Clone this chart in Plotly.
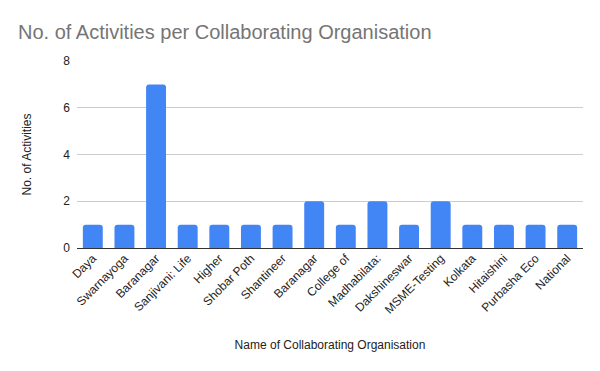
import plotly.graph_objects as go

organisations = ["Daya", "Swarnayoga", "Baranagar", "Sanjivani: Life", "Higher",
                 "Shobar Poth", "Shantineer", "Baranagar", "College of", "Madhabilata:",
                 "Dakshineswar", "MSME-Testing", "Kolkata", "Hitaishini", "Purbasha Eco",
                 "National"]
activities = [1, 1, 7, 1, 1, 1, 1, 2, 1, 2, 1, 2, 1, 1, 1, 1]
y_ticks = [0, 2, 4, 6, 8]

positions = list(range(len(organisations)))

fig = go.Figure(go.Bar(
    x=positions, y=activities, marker_color="#4285F4",
    marker_line_width=0, width=0.63,
))

font = "Liberation Sans, Arial, sans-serif"
fig.update_layout(
    width=600, height=371,
    margin=dict(l=77, r=17, t=61, b=123),
    paper_bgcolor="white", plot_bgcolor="white",
    barcornerradius=3,
    font=dict(family=font, size=12, color="#222222"),
    title=dict(text="No. of Activities per Collaborating Organisation",
               x=18 / 600, xanchor="left", y=1 - 32 / 371, yanchor="middle",
               font=dict(size=20, color="#757575", family=font)),
    showlegend=False,
)
fig.update_xaxes(
    tickmode="array", tickvals=positions, ticktext=organisations,
    tickangle=-45, range=[-0.5, len(organisations) - 0.5],
    showgrid=False, showline=False, ticks="",
    tickfont=dict(size=12, color="#222222"),
    title=dict(text="Name of Collaborating Organisation", standoff=25,
               font=dict(size=12, color="#222222")),
)
fig.update_yaxes(
    range=[0, 8], tickvals=y_ticks, showgrid=True, gridcolor="#cccccc",
    zeroline=True, zerolinecolor="#333333", zerolinewidth=1,
    ticks="", tickfont=dict(size=12, color="#222222"), ticklabelstandoff=6,
    title=dict(text="No. of Activities", standoff=29,
               font=dict(size=12, color="#222222")),
)
fig.write_html("out.html")
